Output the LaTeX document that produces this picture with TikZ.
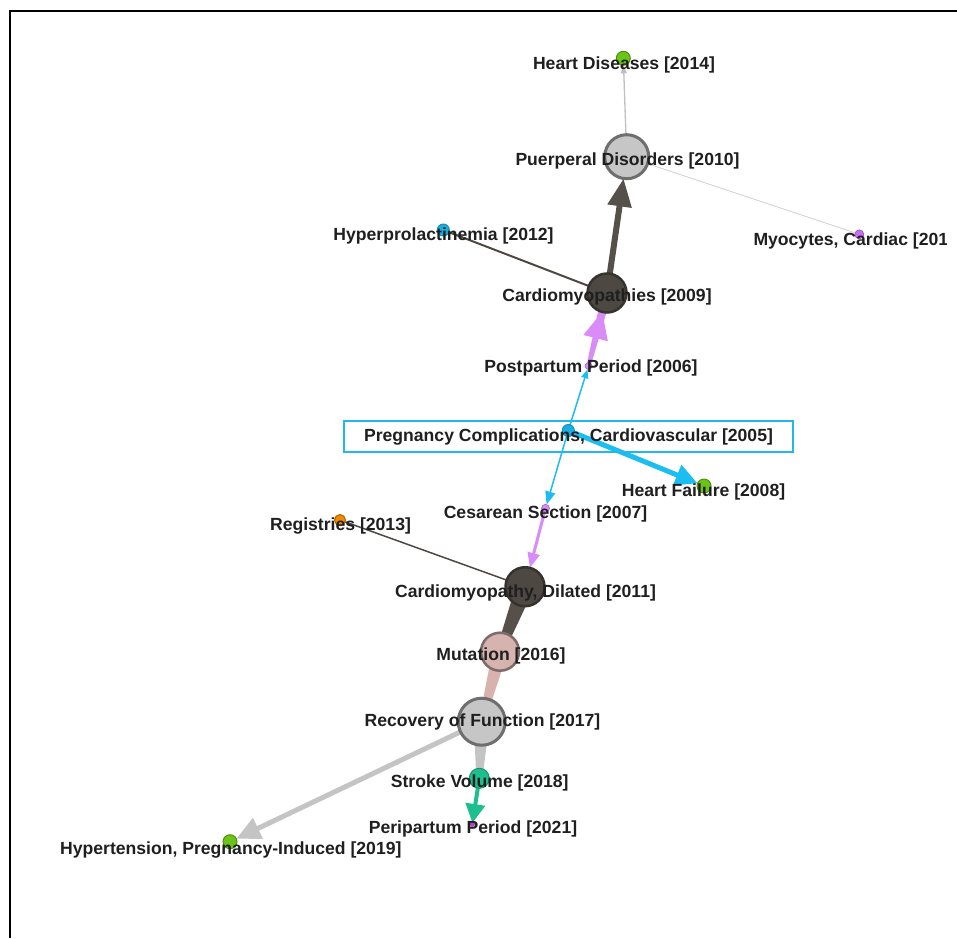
\documentclass[tikz,border=0pt]{standalone}
\usepackage{fontspec}
\setmainfont{Liberation Sans}
\usetikzlibrary{arrows.meta,calc,backgrounds}
\definecolor{cgreen}{HTML}{6CC416}
\definecolor{cgreenD}{HTML}{4E8F12}
\definecolor{cblue}{HTML}{1AAEE0}
\definecolor{cblueD}{HTML}{1590B8}
\definecolor{cedgeblue}{HTML}{1CBDF0}
\definecolor{cbox}{HTML}{22B8EE}
\definecolor{cdark}{HTML}{4D4842}
\definecolor{cdarkD}{HTML}{36322E}
\definecolor{cdarkE}{HTML}{555049}
\definecolor{clgray}{HTML}{C6C6C6}
\definecolor{clgrayD}{HTML}{6E6E6E}
\definecolor{cedgegray}{HTML}{C4C4C4}
\definecolor{cpink}{HTML}{D6B3AF}
\definecolor{cpinkD}{HTML}{7E6A68}
\definecolor{cedgepink}{HTML}{D9B1AD}
\definecolor{cteal}{HTML}{1DBF8E}
\definecolor{ctealD}{HTML}{178F6B}
\definecolor{cviolet}{HTML}{D98CF8}
\definecolor{cvioletN}{HTML}{C86EF0}
\definecolor{cvioletD}{HTML}{9A4CC0}
\definecolor{corange}{HTML}{F08A00}
\definecolor{corangeD}{HTML}{B06500}
\definecolor{cmagenta}{HTML}{C040D0}
\begin{document}
\begin{tikzpicture}[x=1pt,y=-1pt,
  vtx/.style={circle,inner sep=0pt,outer sep=0pt,line width=1pt},
  bigvtx/.style={circle,inner sep=0pt,outer sep=0pt,line width=3pt},
  lab/.style={font=\bfseries\fontsize{17.6}{20}\selectfont,text=black!88,inner sep=0pt,anchor=base}]
\useasboundingbox (0,0) rectangle (957,938);
\coordinate (frBL) at (10,938);
\coordinate (frTL) at (10,11);
\coordinate (frTR) at (957,11);
\draw[line width=2pt] (frBL) -- (frTL) -- (frTR);

% vertices
\node[bigvtx,fill=clgray,draw=clgrayD,minimum size=44pt] (pd) at (626.7,156.7) {};
\node[vtx,fill=cgreen,draw=cgreenD,minimum size=14pt] (hd) at (623.3,58.3) {};
\node[vtx,fill=cvioletN,draw=cvioletD,minimum size=9pt,line width=0.6pt] (my) at (859.3,234.3) {};
\node[vtx,fill=cblue,draw=cblueD,minimum size=12pt] (hp) at (443.3,230) {};
\node[bigvtx,fill=cdark,draw=cdarkD,minimum size=39pt,line width=2.5pt] (cm) at (607,293) {};
\node[vtx,fill=cviolet,draw=cvioletD,minimum size=7pt,line width=0.5pt] (pp) at (588.5,366) {};
\node[vtx,fill=cblue,draw=cblueD,minimum size=12pt] (pc) at (568.3,430.5) {};
\node[vtx,fill=cgreen,draw=cgreenD,minimum size=14pt] (hf) at (704,486) {};
\node[vtx,fill=cviolet,draw=cvioletD,minimum size=8pt,line width=0.5pt] (cs) at (545.5,508.3) {};
\node[vtx,fill=corange,draw=corangeD,minimum size=11pt] (rg) at (340,520) {};
\node[bigvtx,fill=cdark,draw=cdarkD,minimum size=39pt,line width=2.5pt] (cmd) at (525,586.7) {};
\node[bigvtx,fill=cpink,draw=cpinkD,minimum size=38pt,line width=2.5pt] (mu) at (500,651.7) {};
\node[bigvtx,fill=clgray,draw=clgrayD,minimum size=47pt] (rf) at (481.7,721.7) {};
\node[vtx,fill=cteal,draw=ctealD,minimum size=20pt] (sv) at (479.3,778.3) {};
\node[vtx,fill=cmagenta,draw=cmagenta,minimum size=5pt,line width=0.4pt] (pe) at (472.3,824) {};
\node[vtx,fill=cgreen,draw=cgreenD,minimum size=14pt] (hy) at (230,841.7) {};

% edges on background
\begin{scope}[on background layer]
\draw[cedgegray!90!black!80,line width=1.3pt,-{Triangle[length=8pt,width=6pt]}] (pd) -- (hd);
\draw[black!20,line width=0.7pt] (pd) -- (my);
\draw[cdarkE,line width=6pt,-{Triangle[length=28pt,width=23pt]}] (cm) -- (pd);
\draw[cdark,line width=2pt] (cm) -- (hp);
\fill[cviolet] ($(pp.center)!2pt!90:(cm.center)$) -- ($(cm.center)!5pt!-90:(pp.center)$) -- ($(cm.center)!5pt!90:(pp.center)$) -- ($(pp.center)!2pt!-90:(cm.center)$) -- cycle;
\draw[cviolet,line width=1pt,-{Triangle[length=27pt,width=25pt]}] (pp) -- (cm);
\draw[cedgeblue,line width=1.5pt,-{Triangle[length=9pt,width=7pt]}] (pc) -- (pp);
\draw[cedgeblue,line width=1.5pt,-{Triangle[length=13pt,width=10pt]}] (pc) -- (cs);
\draw[cedgeblue,line width=5pt,-{Triangle[length=22pt,width=21pt]}] (pc) -- (hf);
\draw[cviolet,line width=3pt,-{Triangle[length=15pt,width=12pt]}] (cs) -- (cmd);
\draw[cdark,line width=1.5pt] (rg) -- (cmd);
\fill[cdarkE] ($(cmd.center)!9pt!90:(mu.center)$) -- ($(mu.center)!4pt!-90:(cmd.center)$) -- ($(mu.center)!4pt!90:(cmd.center)$) -- ($(cmd.center)!9pt!-90:(mu.center)$) -- cycle;
\fill[cedgepink] ($(mu.center)!7.5pt!90:(rf.center)$) -- ($(rf.center)!3pt!-90:(mu.center)$) -- ($(rf.center)!3pt!90:(mu.center)$) -- ($(mu.center)!7.5pt!-90:(rf.center)$) -- cycle;
\fill[cedgegray] ($(rf.center)!8pt!90:(sv.center)$) -- ($(sv.center)!3pt!-90:(rf.center)$) -- ($(sv.center)!3pt!90:(rf.center)$) -- ($(rf.center)!8pt!-90:(sv.center)$) -- cycle;
\draw[cedgegray,line width=5pt,-{Triangle[length=24pt,width=22pt]}] (rf) -- (hy);
\draw[cteal,line width=4pt,-{Triangle[length=19pt,width=19pt]}] (sv) -- ($(pe.center)!1pt!(sv.center)$);
\end{scope}

% highlight box
\coordinate (boxA) at (344,421);
\coordinate (boxB) at (793,452);
\draw[cbox,line width=2.5pt] (boxA) rectangle (boxB);

% labels
\node[lab] (hdL) at (624,69.5) {Heart Diseases [2014]};
\node[lab] (pdL) at (627.5,165) {Puerperal Disorders [2010]};
\node[lab] (hpL) at (443.5,240.7) {Hyperprolactinemia [2012]};
\node[lab] (cmL) at (607,301.7) {Cardiomyopathies [2009]};
\begin{scope}
\clip (0,0) rectangle (946,938);
\node[lab,anchor=base west] (myL) at (753.3,245) {Myocytes, Cardiac [2015]};
\end{scope}
\node[lab] (ppL) at (591,372.7) {Postpartum Period [2006]};
\node[lab] (pcL) at (568.5,441.7) {Pregnancy Complications, Cardiovascular [2005]};
\node[lab] (hfL) at (703.5,496.7) {Heart Failure [2008]};
\node[lab] (csL) at (545.5,518.3) {Cesarean Section [2007]};
\node[lab] (rgL) at (340.5,530) {Registries [2013]};
\node[lab] (cmdL) at (525.5,597.3) {Cardiomyopathy, Dilated [2011]};
\node[lab] (muL) at (501,660) {Mutation [2016]};
\node[lab] (rfL) at (482.5,726.7) {Recovery of Function [2017]};
\node[lab] (svL) at (479.7,787.3) {Stroke Volume [2018]};
\node[lab] (peL) at (473,833.3) {Peripartum Period [2021]};
\node[lab] (hyL) at (230.8,854) {Hypertension, Pregnancy-Induced [2019]};
\end{tikzpicture}
\end{document}
